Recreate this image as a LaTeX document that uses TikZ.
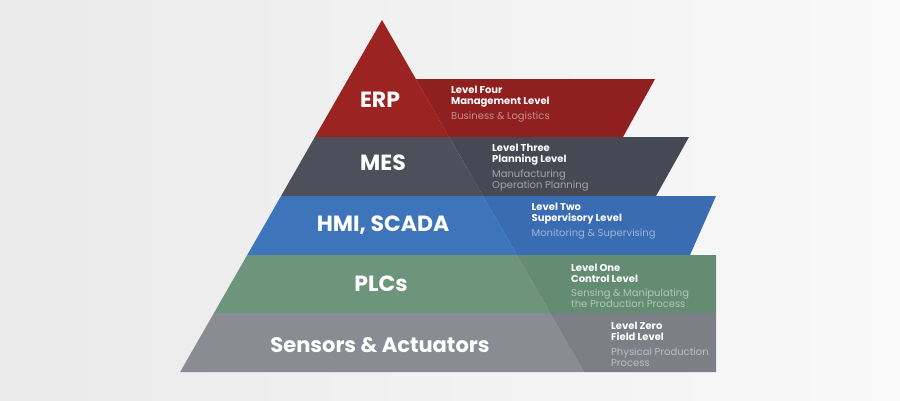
\documentclass[tikz,border=0pt]{standalone}
\usepackage{fontspec}
\setmainfont{Poppins}

\definecolor{bgL}{RGB}{234,234,234}
\definecolor{bgR}{RGB}{249,249,249}
\definecolor{erp}{RGB}{155,35,34}
\definecolor{erpdark}{RGB}{144,31,31}
\definecolor{mes}{RGB}{77,80,91}
\definecolor{mesdark}{RGB}{70,73,84}
\definecolor{hmi}{RGB}{62,116,186}
\definecolor{hmidark}{RGB}{57,108,176}
\definecolor{plc}{RGB}{108,149,123}
\definecolor{plcdark}{RGB}{100,140,115}
\definecolor{fld}{RGB}{137,140,147}
\definecolor{flddark}{RGB}{124,127,134}

\begin{document}
\begin{tikzpicture}
[
    x=1pt, y=-1pt,
    tier/.style={text=white, font=\bfseries\fontsize{22}{24}\selectfont, inner sep=0},
    head/.style={anchor=west, align=left, text=white, inner sep=0,
                 font=\bfseries\fontsize{10}{11}\selectfont},
    note/.style={anchor=west, align=left, text=white, text opacity=.5, inner sep=0,
                 font=\fontsize{10}{11}\selectfont},
]
\useasboundingbox (0,0) rectangle (900,400);
\shade[left color=bgL, right color=bgR] (0,0) rectangle (900,400);

\foreach \t/\r/\b/\rt/\rb/\c/\d in
    {20/79/137/655/623/erp/erpdark, 137/137/196/689/656/mes/mesdark,
     196/196/255/716/690/hmi/hmidark, 255/255/313/716/716/plc/plcdark,
     313/313/372/716/716/fld/flddark}
{
    \fill[\c] ({382-0.5735*(\t-20)},\t) -- ({382-0.5735*(\b-20)},\b)
        -- ({382+0.5735*(\b-20)},\b) -- ({382+0.5735*(\t-20)},\t) -- cycle;
    \fill[\d] ({382+0.5735*(\r-20)},\r) -- (\rt,\r) -- (\rb,\b)
        -- ({382+0.5735*(\b-20)},\b) -- cycle;
}

\node[tier] (erp) at (380,100) {ERP};
\node[tier] (mes) at (383,163) {MES};
\node[tier] (hmi) at (383,225) {HMI, SCADA};
\node[tier] (plc) at (381,284) {PLCs};
\node[tier, font=\bfseries\fontsize{21}{23}\selectfont] (fld) at (380,345) {Sensors \& Actuators};

\node[head] (lvl4) at (451,96.5) {Level Four\\Management Level};
\node[note] (lvl4n) at (451,117) {Business \& Logistics};
\node[head] (lvl3) at (492,154.5) {Level Three\\Planning Level};
\node[note] (lvl3n) at (492,180.5) {Manufacturing\\Operation Planning};
\node[head] (lvl2) at (531.5,213.5) {Level Two\\Supervisory Level};
\node[note] (lvl2n) at (531.5,234) {Monitoring \& Supervising};
\node[head] (lvl1) at (571,273.5) {Level One\\Control Level};
\node[note] (lvl1n) at (571,298) {Sensing \& Manipulating\\the Production Process};
\node[head] (lvl0) at (611,331.5) {Level Zero\\Field Level};
\node[note] (lvl0n) at (611,357) {Physical Production\\Process};
\end{tikzpicture}
\end{document}
